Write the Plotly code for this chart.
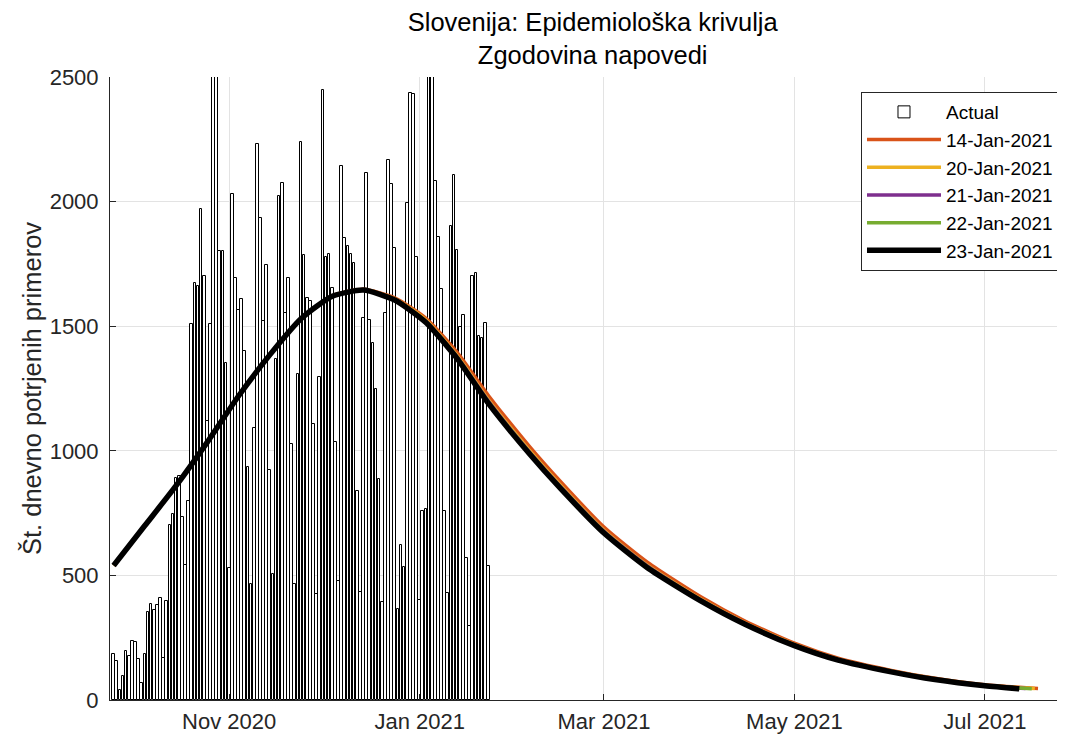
import plotly.graph_objects as go
import pandas as pd

# ---------------- data ----------------
actual_start = "2020-09-25"
actual_cases = [
    183, 158, 40, 98, 197, 176, 236, 231, 166, 70,
    186, 355, 387, 362, 380, 408, 167, 397, 704, 745,
    890, 900, 735, 541, 798, 1507, 1673, 1662, 1971, 1702,
    1119, 1507, 2600, 2600, 1800, 1800, 1352, 530, 2031, 1693,
    1567, 1611, 1400, 935, 465, 1092, 2230, 1935, 1520, 1744,
    924, 506, 1370, 2021, 2075, 1552, 1694, 1027, 465, 1308,
    2239, 1784, 1613, 1603, 1108, 427, 1298, 2447, 1779, 1788,
    1653, 1034, 477, 2144, 1853, 1820, 1790, 1755, 838, 435,
    1532, 2116, 1523, 1432, 1250, 886, 394, 1553, 2166, 2072,
    1813, 366, 621, 535, 1995, 2434, 2431, 1777, 402, 758,
    767, 2600, 2600, 2083, 1856, 1650, 758, 430, 1901, 2105,
    1807, 1495, 1545, 571, 295, 1702, 1714, 1459, 1454, 1512, 538,
]

curve_dates = [
    "2020-09-25", "2020-10-05", "2020-10-15", "2020-10-25", "2020-11-04",
    "2020-11-14", "2020-11-24", "2020-12-04", "2020-12-14", "2020-12-24",
    "2021-01-03", "2021-01-13", "2021-01-23", "2021-02-05", "2021-02-15",
    "2021-03-01", "2021-03-15", "2021-04-01", "2021-04-15", "2021-05-01",
    "2021-05-15", "2021-06-01", "2021-06-15", "2021-07-01",
]

fc_14jan = [540, 700, 860, 1035, 1220, 1385, 1530, 1622, 1648, 1614, 1532, 1395,
            1222, 1020, 878, 694, 552, 414, 318, 228, 168, 119, 87, 61]
fc_20jan = [540, 700, 860, 1035, 1220, 1385, 1530, 1621, 1646, 1610, 1525, 1382,
            1205, 1004, 863, 681, 540, 405, 311, 223, 164, 116, 85, 59]
fc_21jan = [540, 700, 860, 1035, 1220, 1385, 1530, 1620, 1645, 1607, 1520, 1377,
            1200, 998, 858, 677, 537, 402, 309, 221, 163, 115, 84, 58]
fc_22jan = [540, 700, 860, 1035, 1220, 1385, 1530, 1620, 1645, 1606, 1518, 1374,
            1196, 995, 855, 674, 534, 400, 307, 220, 162, 114, 83, 58]
fc_23jan = [540, 700, 860, 1035, 1220, 1385, 1530, 1620, 1645, 1605, 1515, 1370,
            1190, 990, 850, 670, 530, 398, 305, 218, 160, 113, 82, 57]

fc_end_dates = ["2021-07-18", "2021-07-17", "2021-07-14", "2021-07-16", "2021-07-12"]
fc_end_values = [46, 46, 46, 45, 45]

fc_labels = ["14-Jan-2021", "20-Jan-2021", "21-Jan-2021", "22-Jan-2021", "23-Jan-2021"]
fc_colors = ["#D95319", "#EDB120", "#7E2F8E", "#77AC30", "#000000"]
fc_widths = [3.5, 3.5, 3.5, 3.5, 5.5]

tick_dates = ["2020-11-01", "2021-01-01", "2021-03-01", "2021-05-01", "2021-07-01"]
tick_labels = ["Nov 2020", "Jan 2021", "Mar 2021", "May 2021", "Jul 2021"]

y_ticks = [0, 500, 1000, 1500, 2000, 2500]

# ---------------- figure ----------------
actual_dates = pd.date_range(actual_start, periods=len(actual_cases), freq="D")

fig = go.Figure()
fig.add_trace(go.Bar(
    x=actual_dates, y=actual_cases, name="Actual",
    marker=dict(color="white", line=dict(color="black", width=1)),
    width=0.85 * 86400000,
))

for vals, end_d, end_v, lab, col, w in zip(
        [fc_14jan, fc_20jan, fc_21jan, fc_22jan, fc_23jan],
        fc_end_dates, fc_end_values, fc_labels, fc_colors, fc_widths):
    fig.add_trace(go.Scatter(
        x=curve_dates + [end_d], y=vals + [end_v], name=lab, mode="lines",
        line=dict(color=col, width=w, shape="spline", smoothing=0.6),
    ))

font_family = "Liberation Sans, Arial, Helvetica, sans-serif"
fig.update_layout(
    width=1057, height=728,
    margin=dict(l=102, r=2, t=69, b=36),
    paper_bgcolor="white", plot_bgcolor="white",
    font=dict(family=font_family, size=22, color="#262626"),
    title=dict(
        text="Slovenija: Epidemiološka krivulja<br>Zgodovina napovedi",
        x=0.5065, xref="paper", xanchor="center",
        y=0.968, yref="container", yanchor="top",
        font=dict(size=25.5, color="black"),
    ),
    showlegend=True,
    legend=dict(
        x=0.9958, xanchor="right", y=0.9759, yanchor="top",
        bgcolor="white", bordercolor="#262626", borderwidth=1,
        font=dict(size=19, color="black"), itemwidth=74,
        traceorder="normal",
    ),
    bargap=0,
)
fig.update_xaxes(
    range=["2020-09-23 20:00", "2021-07-26"],
    tickvals=tick_dates, ticktext=tick_labels,
    showgrid=True, gridcolor="#e3e3e3", gridwidth=1,
    showline=True, linecolor="#262626", linewidth=1,
    ticks="inside", ticklen=6, tickcolor="#262626",
    tickfont=dict(size=22), zeroline=False, ticklabelstandoff=2,
)
fig.update_yaxes(
    range=[0, 2500], tickvals=y_ticks,
    showgrid=True, gridcolor="#e3e3e3", gridwidth=1,
    showline=True, linecolor="#262626", linewidth=1,
    ticks="inside", ticklen=6, tickcolor="#262626",
    tickfont=dict(size=22), zeroline=False, ticklabelstandoff=6,
    title=dict(text="Št. dnevno potrjenih primerov", font=dict(size=25.5), standoff=0),
)

fig.write_html("out.html")
